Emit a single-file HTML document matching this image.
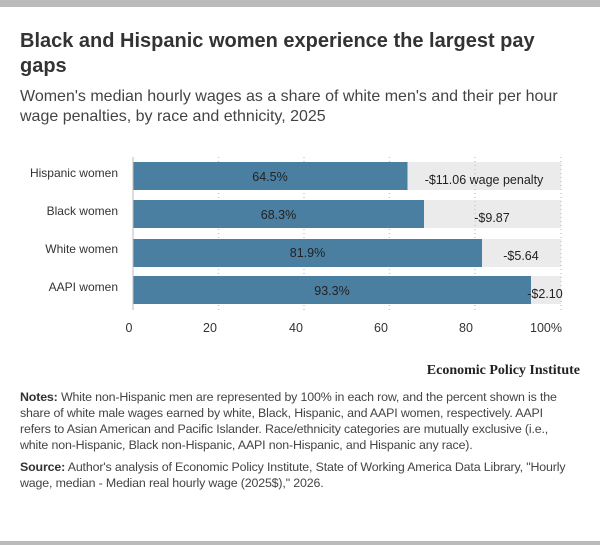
<!DOCTYPE html>
<html><head><meta charset="utf-8"><style>
body{margin:0;width:600px;height:545px;background:#fff;position:relative;overflow:hidden;font-family:"Liberation Sans",sans-serif;color:#333}
.bar{position:absolute;height:7px;left:0;right:0;background:#bbb}
.t{position:absolute;left:20px;width:560px}
</style></head><body>
<div class="bar" style="top:0"></div>
<div class="t" style="top:29px;width:548px;font-size:20px;font-weight:bold;line-height:25px;color:#333">Black and Hispanic women experience the largest pay gaps</div>
<div class="t" style="top:87px;font-size:16px;line-height:20px;color:#444">Women's median hourly wages as a share of white men's and their per hour wage penalties, by race and ethnicity, 2025</div>
<svg style="position:absolute;left:0;top:0" width="600" height="545" font-family="Liberation Sans, sans-serif">
<g fill="#ebebeb">
<rect x="133" y="162" width="428" height="28"/><rect x="133" y="200" width="428" height="28"/>
<rect x="133" y="239" width="428" height="28"/><rect x="133" y="276" width="428" height="28"/>
</g>
<g stroke="#ccc" stroke-dasharray="1,3" stroke-width="1.5">
<line x1="218.5" y1="157" x2="218.5" y2="310"/><line x1="304" y1="157" x2="304" y2="310"/>
<line x1="389.5" y1="157" x2="389.5" y2="310"/><line x1="475" y1="157" x2="475" y2="310"/>
<line x1="561" y1="157" x2="561" y2="310"/>
</g>
<g fill="#4b7fa1">
<rect x="133" y="162" width="274.5" height="28"/><rect x="133" y="200" width="291" height="28"/>
<rect x="133" y="239" width="349" height="28"/><rect x="133" y="276" width="398" height="28"/>
</g>
<line x1="133" y1="157" x2="133" y2="310" stroke="#bbb"/>
<g font-size="12" fill="#333" text-anchor="end">
<text x="118" y="177">Hispanic women</text><text x="118" y="215">Black women</text>
<text x="118" y="253">White women</text><text x="118" y="291">AAPI women</text>
</g>
<g font-size="12.5" fill="#222" text-anchor="middle">
<text x="270" y="181">64.5%</text><text x="278.5" y="219">68.3%</text>
<text x="307.5" y="257">81.9%</text><text x="332" y="295">93.3%</text>
<text x="484" y="184">-$11.06 wage penalty</text><text x="492" y="222">-$9.87</text>
<text x="521" y="260">-$5.64</text><text x="545" y="298">-$2.10</text>
</g>
<g font-size="12.5" fill="#333" text-anchor="middle">
<text x="129" y="332">0</text><text x="210" y="332">20</text><text x="296" y="332">40</text>
<text x="381" y="332">60</text><text x="466" y="332">80</text><text x="546" y="332">100%</text>
</g>
<text x="580" y="374" text-anchor="end" font-family="Liberation Serif, serif" font-weight="bold" font-size="14" fill="#222">Economic Policy Institute</text>
</svg>
<div class="t" style="top:389px;width:539px;font-size:12.4px;line-height:16px;color:#444;letter-spacing:-0.15px"><b style="color:#333">Notes:</b> White non-Hispanic men are represented by 100% in each row, and the percent shown is the share of white male wages earned by white, Black, Hispanic, and AAPI women, respectively. AAPI refers to Asian American and Pacific Islander. Race/ethnicity categories are mutually exclusive (i.e., white non-Hispanic, Black non-Hispanic, AAPI non-Hispanic, and Hispanic any race).</div>
<div class="t" style="top:459px;width:560px;font-size:12.4px;line-height:16px;color:#444;letter-spacing:-0.15px"><b style="color:#333">Source:</b> Author's analysis of Economic Policy Institute, State of Working America Data Library, "Hourly wage, median - Median real hourly wage (2025$)," 2026.</div>
<div class="bar" style="top:541px;height:4px"></div>
</body></html>
